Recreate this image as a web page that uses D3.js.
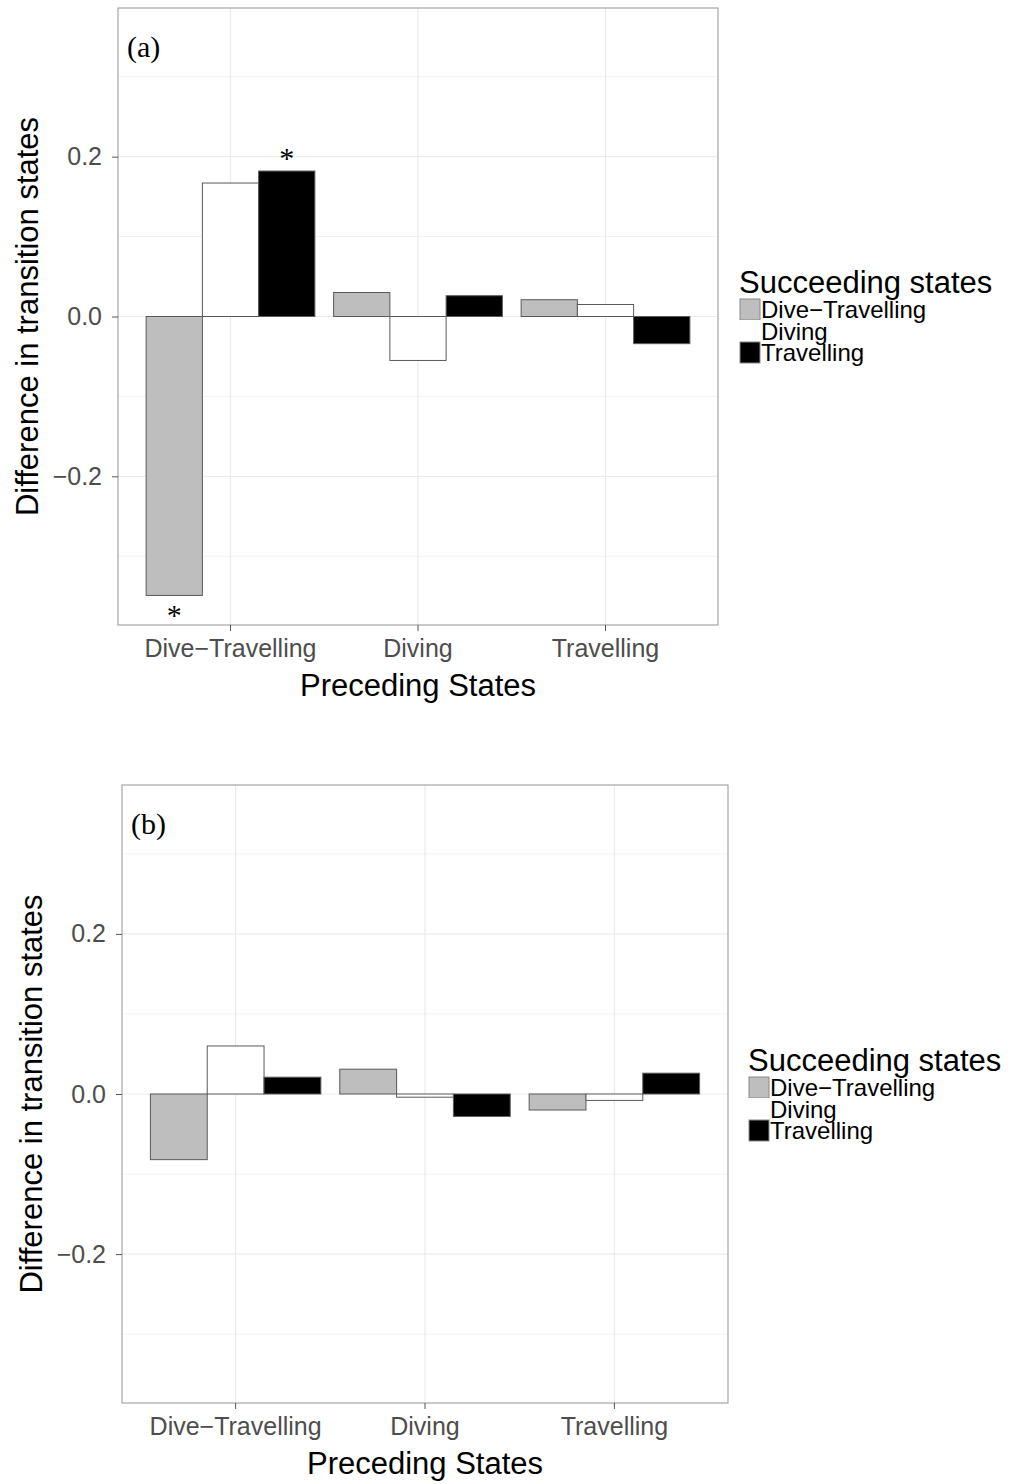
<!DOCTYPE html>
<html>
<head>
<meta charset="utf-8">
<script src="https://cdn.jsdelivr.net/npm/d3@7"></script>
<style>
  body { margin: 0; background: #fff; }
  text { font-family: "Liberation Sans", Arial, sans-serif; }
</style>
</head>
<body>
<svg width="1011" height="1484"></svg>
<script>
const preceding = ['Dive\u2212Travelling', 'Diving', 'Travelling'];
const succeeding = ['Dive\u2212Travelling', 'Diving', 'Travelling'];
const fills = ['#bebebe', '#ffffff', '#000000'];
const yTicks = [-0.2, 0.0, 0.2];
const yMinor = [-0.3, -0.1, 0.1, 0.3];

// values[preceding][succeeding]
const valuesA = [
    [-0.349, 0.167, 0.182],
    [0.030, -0.055, 0.026],
    [0.021, 0.015, -0.034]
];
const valuesB = [
    [-0.082, 0.060, 0.021],
    [0.031, -0.004, -0.028],
    [-0.020, -0.008, 0.026]
];
// asterisks: [preceding index, succeeding index]
const starsA = [[0, 0], [0, 2]];
const starsB = [];

const svg = d3.select('svg');

const drawPanel = (cfg) => {
    const { left, top, w, h, values, stars, tag, legendX, legendY, yTitleX } = cfg;

    const g = svg.append('g')
        .attr('transform', `translate(${left},${top})`);

    const yScale = d3.scaleLinear()
        .domain([-0.386, 0.386])
        .range([h, 0]);

    const xScale = d3.scaleBand()
        .domain(preceding)
        .range([0, w])
        .paddingInner(0)
        .paddingOuter(0.1);
    const bw = xScale.bandwidth();
    const xCenter = p => xScale(p) + bw / 2;

    const inner = d3.scaleBand()
        .domain(succeeding)
        .range([0.05 * bw, 0.95 * bw]);

    // grid
    g.selectAll('.minor')
        .data(yMinor)
        .enter().append('line')
        .attr('x1', 0).attr('x2', w)
        .attr('y1', d => yScale(d)).attr('y2', d => yScale(d))
        .attr('stroke', '#f3f3f3').attr('stroke-width', 1);
    g.selectAll('.major')
        .data(yTicks)
        .enter().append('line')
        .attr('x1', 0).attr('x2', w)
        .attr('y1', d => yScale(d)).attr('y2', d => yScale(d))
        .attr('stroke', '#ebebeb').attr('stroke-width', 1.2);
    g.selectAll('.vgrid')
        .data(preceding)
        .enter().append('line')
        .attr('x1', xCenter).attr('x2', xCenter)
        .attr('y1', 0).attr('y2', h)
        .attr('stroke', '#ebebeb').attr('stroke-width', 1.2);

    // bars
    const rows = [];
    values.forEach((row, i) => row.forEach((v, j) => rows.push({ p: preceding[i], s: succeeding[j], j, v })));
    g.selectAll('.bar')
        .data(rows)
        .enter().append('rect')
        .attr('x', d => xScale(d.p) + inner(d.s))
        .attr('width', inner.bandwidth())
        .attr('y', d => yScale(Math.max(0, d.v)))
        .attr('height', d => Math.abs(yScale(d.v) - yScale(0)))
        .attr('fill', d => fills[d.j])
        .attr('stroke', '#5a5a5a')
        .attr('stroke-width', 1);

    // significance stars
    g.selectAll('.star')
        .data(stars)
        .enter().append('text')
        .attr('x', d => xScale(preceding[d[0]]) + inner(succeeding[d[1]]) + inner.bandwidth() / 2)
        .attr('y', d => {
            const v = values[d[0]][d[1]];
            return v >= 0 ? yScale(v) - 3 : yScale(v) + 30;
        })
        .attr('text-anchor', 'middle')
        .style('font-family', '"Liberation Serif", "Times New Roman", serif')
        .style('font-size', '30px')
        .text('*');

    // panel border
    g.append('rect')
        .attr('width', w).attr('height', h)
        .attr('fill', 'none')
        .attr('stroke', '#a6a6a6').attr('stroke-width', 1.2);

    // tag
    g.append('text')
        .attr('x', 9).attr('y', 49)
        .style('font-family', '"Liberation Serif", "Times New Roman", serif')
        .style('font-size', '30px')
        .text(tag);

    // y axis
    const yAxisGroup = g.append('g')
        .call(d3.axisLeft(yScale).tickValues(yTicks).tickSize(6).tickPadding(10));
    yAxisGroup.select('.domain').remove();
    yAxisGroup.selectAll('.tick line').attr('stroke', '#555');
    yAxisGroup.selectAll('.tick text')
        .attr('fill', '#4d4d4d')
        .style('font-size', '25px')
        .text(d => d3.format('.1f')(d).replace('-', '\u2212'));

    // x axis
    const xAxisGroup = g.append('g')
        .attr('transform', `translate(0,${h})`)
        .call(d3.axisBottom(xScale).tickSize(6).tickPadding(8));
    xAxisGroup.select('.domain').remove();
    xAxisGroup.selectAll('.tick line').attr('stroke', '#555');
    xAxisGroup.selectAll('.tick text')
        .attr('fill', '#4d4d4d')
        .style('font-size', '25px');

    // axis titles
    g.append('text')
        .attr('x', w / 2).attr('y', h + 71)
        .attr('text-anchor', 'middle')
        .style('font-size', '31px')
        .text('Preceding States');

    g.append('text')
        .attr('transform', `translate(${yTitleX - left},${yScale(0)}) rotate(-90)`)
        .attr('text-anchor', 'middle')
        .style('font-size', '31px')
        .text('Difference in transition states');

    // legend
    const lg = svg.append('g')
        .attr('transform', `translate(${legendX},${legendY})`);
    lg.append('text')
        .attr('x', 0).attr('y', 0)
        .style('font-size', '31px')
        .text('Succeeding states');
    succeeding.forEach((s, j) => {
        lg.append('rect')
            .attr('x', 1).attr('y', 6 + j * 21.5)
            .attr('width', 20).attr('height', 21)
            .attr('fill', fills[j])
            .attr('stroke', j === 1 ? '#fff' : '#888')
            .attr('stroke-width', 1);
        lg.append('text')
            .attr('x', 22).attr('y', 25 + j * 21.5)
            .style('font-size', '24px')
            .text(s);
    });
};

drawPanel({
    left: 118, top: 8, w: 600, h: 617,
    values: valuesA, stars: starsA, tag: '(a)',
    legendX: 739, legendY: 293, yTitleX: 38
});

drawPanel({
    left: 122, top: 785, w: 606, h: 618,
    values: valuesB, stars: starsB, tag: '(b)',
    legendX: 748, legendY: 1071, yTitleX: 42
});
</script>
</body>
</html>
